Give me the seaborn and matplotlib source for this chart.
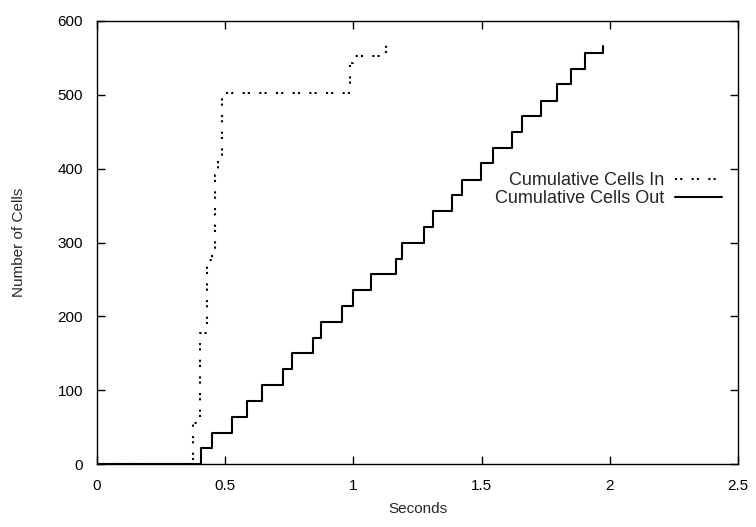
import matplotlib
matplotlib.use("Agg")
import matplotlib.pyplot as plt
import seaborn as sns
import pandas as pd
from matplotlib.ticker import FuncFormatter

# Data (step points: time, cumulative count after step)
cells_in_t = [0.0, 0.375, 0.400, 0.430, 0.447, 0.460, 0.473, 0.487, 0.988, 0.997, 1.127]
cells_in_n = [0, 55, 178, 276, 292, 392, 410, 502, 543, 552, 568]

cells_out_t = [0.0, 0.406, 0.447, 0.528, 0.584, 0.645, 0.724, 0.759, 0.844, 0.872,
               0.957, 0.997, 1.067, 1.165, 1.188, 1.275, 1.309, 1.383, 1.422, 1.496,
               1.543, 1.617, 1.656, 1.730, 1.793, 1.849, 1.903, 1.972]
cells_out_n = [0, 21, 42, 64, 86, 107, 129, 150, 171, 193,
               214, 235, 257, 278, 299, 321, 342, 364, 385, 407,
               428, 450, 471, 492, 514, 535, 556, 566]

x_ticks = [0, 0.5, 1, 1.5, 2, 2.5]
y_ticks = [0, 100, 200, 300, 400, 500, 600]

sns.set_style("ticks")
plt.rcParams['font.family'] = ['Liberation Sans', 'DejaVu Sans']
FS = 11

fig = plt.figure(figsize=(7.56, 5.27), dpi=100)
ax = fig.add_axes([97/756, 1 - 464/527, (738 - 97)/756, (464 - 21)/527])

df_in = pd.DataFrame({"t": cells_in_t, "n": cells_in_n})
df_out = pd.DataFrame({"t": cells_out_t, "n": cells_out_n})

sns.lineplot(data=df_in, x="t", y="n", ax=ax, estimator=None, sort=False,
             drawstyle="steps-post", color="black", linewidth=1.5,
             linestyle=(0, (1.0, 1.5, 1.0, 4.5)), label="Cumulative Cells In")
sns.lineplot(data=df_out, x="t", y="n", ax=ax, estimator=None, sort=False,
             drawstyle="steps-post", color="black", linewidth=1.5,
             linestyle="-", label="Cumulative Cells Out")

ax.set_xlim(0, 2.5)
ax.set_ylim(0, 600)
ax.set_xticks(x_ticks)
ax.set_yticks(y_ticks)
ax.xaxis.set_major_formatter(FuncFormatter(lambda v, p: f"{v:g}"))
ax.yaxis.set_major_formatter(FuncFormatter(lambda v, p: f"{v:g}"))
ax.tick_params(direction="in", length=6, width=1, top=True, right=True,
               labelsize=FS, colors="black")
ax.tick_params(axis="x", pad=11)
ax.tick_params(axis="y", pad=10)
for s in ax.spines.values():
    s.set_visible(True)
    s.set_linewidth(1.0)
    s.set_color("black")

ax.set_xlabel("Seconds", fontsize=FS, labelpad=6)
ax.set_ylabel("Number of Cells", fontsize=FS, labelpad=23)

leg = ax.legend(loc="upper right", bbox_to_anchor=((722 - 97)/641, (464 - 172)/443),
                frameon=False, markerfirst=False, handlelength=2.6,
                handletextpad=0.6, labelspacing=0.05, borderpad=0, borderaxespad=0,
                fontsize=13)
leg._legend_box.align = "right"

fig.savefig("out.png", dpi=100)
